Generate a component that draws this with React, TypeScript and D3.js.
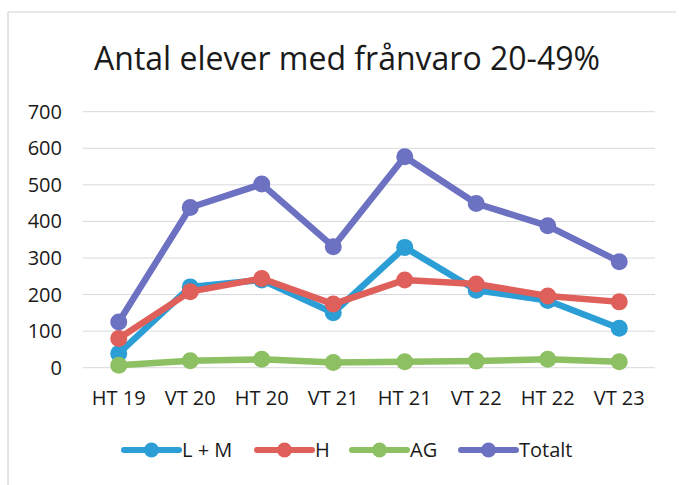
import React, { useEffect, useRef } from "react";
import * as d3 from "d3";

const categories = ["HT 19", "VT 20", "HT 20", "VT 21", "HT 21", "VT 22", "HT 22", "VT 23"];
const lmValues = [39, 221, 240, 150, 329, 212, 184, 108];
const hValues = [80, 208, 244, 174, 240, 229, 196, 180];
const agValues = [7, 19, 23, 14, 16, 18, 23, 16];
const totalValues = [125, 438, 502, 331, 577, 449, 388, 290];
const yTicks = [0, 100, 200, 300, 400, 500, 600, 700];

const seriesNames = ["L + M", "H", "AG", "Totalt"];
const seriesColors = ["#2b9ed6", "#df605a", "#8cc062", "#6c71c1"];

const App = () => {
  const svgRef = useRef<SVGSVGElement>(null);

  useEffect(() => {
    const w = 679;
    const h = 485;
    const svg = d3.select(svgRef.current).attr("width", w).attr("height", h);
    svg.selectAll("*").remove();

    const left = 83, right = 655, top = 111.7, bottom = 367.7;
    const font = "'Open Sans', sans-serif";

    // chart frame (scan shows only top + left edges)
    svg.append("line").attr("x1", 8).attr("x2", 676).attr("y1", 12).attr("y2", 12)
      .attr("stroke", "#d2d2d6").attr("stroke-width", 1);
    svg.append("line").attr("x1", 8).attr("x2", 8).attr("y1", 12).attr("y2", 485)
      .attr("stroke", "#c8c8cc").attr("stroke-width", 1);

    svg.append("text")
      .attr("x", 347).attr("y", 70)
      .attr("text-anchor", "middle")
      .attr("font-family", font)
      .attr("font-size", 32)
      .attr("fill", "#1a1a1a")
      .text("Antal elever med frånvaro 20-49%");

    const x = d3.scalePoint<string>().domain(categories).range([left, right]).padding(0.5);
    const y = d3.scaleLinear().domain([0, 700]).range([bottom, top]);

    svg.append("g").selectAll("line").data(yTicks).join("line")
      .attr("x1", left).attr("x2", right)
      .attr("y1", d => y(d)).attr("y2", d => y(d))
      .attr("stroke", "#d9d9dc").attr("stroke-width", 1);

    svg.append("g").selectAll("text").data(yTicks).join("text")
      .attr("x", 62).attr("y", d => y(d) + 7)
      .attr("text-anchor", "end")
      .attr("font-family", font)
      .attr("font-size", 20)
      .attr("fill", "#1a1a1a")
      .text(d => d);

    svg.append("g").selectAll("text").data(categories).join("text")
      .attr("x", d => x(d)!).attr("y", 405)
      .attr("text-anchor", "middle")
      .attr("font-family", font)
      .attr("font-size", 20)
      .attr("fill", "#1a1a1a")
      .text(d => d);

    const allSeries = [lmValues, hValues, agValues, totalValues];
    const line = d3.line<number>()
      .x((_, i) => x(categories[i])!)
      .y(d => y(d));

    allSeries.forEach((vals, si) => {
      const g = svg.append("g");
      g.append("path")
        .attr("d", line(vals))
        .attr("fill", "none")
        .attr("stroke", seriesColors[si])
        .attr("stroke-width", 6.5)
        .attr("stroke-linejoin", "round")
        .attr("stroke-linecap", "round");
      g.selectAll("circle").data(vals).join("circle")
        .attr("cx", (_, i) => x(categories[i])!)
        .attr("cy", d => y(d))
        .attr("r", 8.5)
        .attr("fill", seriesColors[si]);
    });

    // legend
    const legendX = [124, 257, 352, 461];
    const ly = 450;
    seriesNames.forEach((name, i) => {
      const g = svg.append("g").attr("transform", `translate(${legendX[i]}, ${ly})`);
      g.append("line").attr("x1", 0).attr("x2", 55).attr("y1", 0).attr("y2", 0)
        .attr("stroke", seriesColors[i]).attr("stroke-width", 6).attr("stroke-linecap", "round");
      g.append("circle").attr("cx", 27.5).attr("cy", 0).attr("r", 7.5).attr("fill", seriesColors[i]);
      g.append("text").attr("x", 58).attr("y", 7)
        .attr("font-family", font)
        .attr("font-size", 20)
        .attr("fill", "#1a1a1a")
        .text(name);
    });
  }, []);

  return <svg ref={svgRef} style={{ position: "absolute", left: 0, top: 0 }} />;
};

export default App;
